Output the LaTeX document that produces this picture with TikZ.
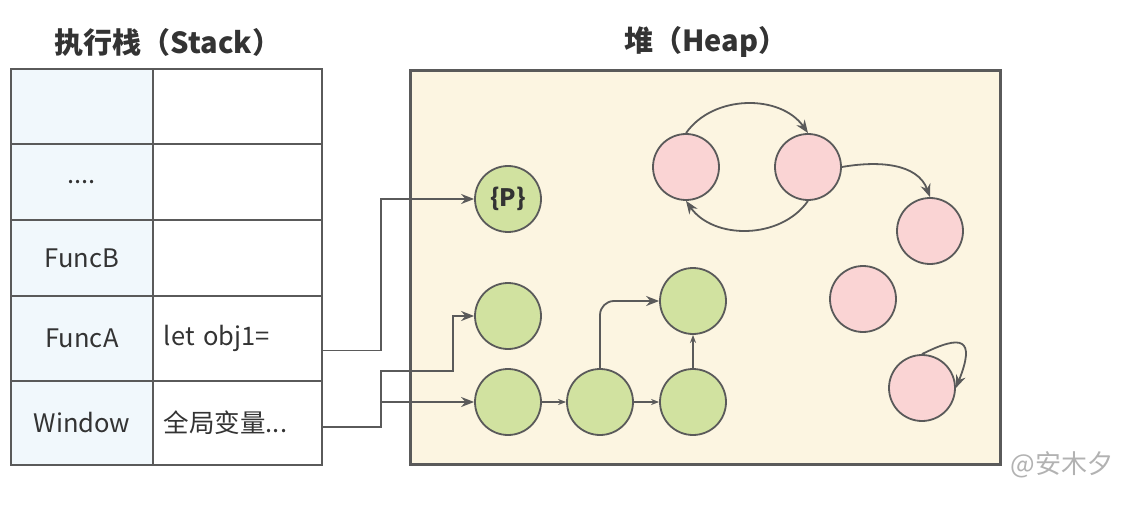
\documentclass[tikz,border=0pt]{standalone}
\usepackage{fontspec}
\setmainfont{Noto Sans CJK SC}
\usetikzlibrary{arrows.meta,positioning}
\definecolor{linegray}{HTML}{5A5A5A}
\definecolor{stackblue}{HTML}{F1F8FC}
\definecolor{heapcream}{HTML}{FCF5E1}
\definecolor{objgreen}{HTML}{D1E2A0}
\definecolor{objpink}{HTML}{FAD4D4}
\definecolor{textdark}{HTML}{333333}
\begin{document}
\begin{tikzpicture}
  [x=1pt, y=-1pt, line width=1.8pt, text=textdark,
   every node/.style={font=\fontsize{25.5}{30}\selectfont},
   lcell/.style={rectangle, draw=linegray, fill=stackblue, minimum width=142pt, anchor=north west, inner sep=0pt},
   rcell/.style={rectangle, draw=linegray, fill=white, text width=147pt, align=left, inner xsep=11pt, inner ysep=0pt, anchor=north west},
   title/.style={font=\fontsize{29}{33}\selectfont\bfseries},
   gobj/.style={circle, draw=linegray, fill=objgreen, minimum size=66pt, inner sep=0pt},
   pobj/.style={circle, draw=linegray, fill=objpink, minimum size=66pt, inner sep=0pt},
   link/.style={draw=linegray, -{Stealth[length=13pt,width=10pt]}},
   slink/.style={draw=linegray, line width=1.5pt, -{Stealth[length=8pt,width=6pt]}}]
  \useasboundingbox (0,0) rectangle (1135,505);

  % titles
  \node[title] (stacktitle) at (168,42) {执行栈（Stack）};
  \node[title] (heaptitle) at (706,42) {堆（Heap）};

  % execution stack
  \node[lcell, minimum height=75pt] (l1) at (10,68) {};
  \node[rcell, minimum height=75pt] (r1) at (152,68) {};
  \node[lcell, minimum height=76pt] (l2) at (10,143) {....};
  \node[rcell, minimum height=76pt] (r2) at (152,143) {};
  \node[lcell, minimum height=76pt] (lB) at (10,219) {FuncB};
  \node[rcell, minimum height=76pt] (rB) at (152,219) {};
  \node[lcell, minimum height=85pt] (lA) at (10,295) {FuncA};
  \node[rcell, minimum height=85pt] (rA) at (152,295) {let obj1=};
  \node[lcell, minimum height=84pt] (lW) at (10,380) {Window};
  \node[rcell, minimum height=84pt] (rW) at (152,380) {全局变量...};

  % heap
  \node[rectangle, draw=linegray, line width=3pt, fill=heapcream, minimum width=590pt, minimum height=394pt, anchor=north west] (heap) at (409,69) {};

  % reachable objects
  \node[gobj, font=\fontsize{24}{28}\selectfont\bfseries] (cP) at (508,199) {\{P\}};
  \node[gobj] (c2) at (508,316) {};
  \node[gobj] (c3) at (508,402) {};
  \node[gobj] (c4) at (600,402) {};
  \node[gobj] (c5) at (693,402) {};
  \node[gobj] (c6) at (693,301) {};

  % unreachable objects
  \node[pobj] (pA) at (686,167) {};
  \node[pobj] (pB) at (808,167) {};
  \node[pobj] (pC) at (930,231) {};
  \node[pobj] (pD) at (863,299) {};
  \node[pobj] (pE) at (922,388) {};

  % references from the stack
  \draw[link] ([yshift=-12pt]rA.east) -- ++(58,0) |- (cP.west);
  \draw[link] ([yshift=-4pt]rW.east) -- ++(58,0) coordinate (wj) |- (c3.west);
  \coordinate (wk) at (453,371);
  \draw[link] (wj |- c3.west) |- (wk) |- (c2.west);

  % references inside the heap
  \draw[slink] (c3) -- (c4);
  \draw[slink] (c4) -- (c5);
  \draw[slink] (c5) -- (c6);
  \draw[link, rounded corners=14pt] (c4.north) |- (c6.west);
  \draw[link] (pA.north) to[out=55, in=125] (pB.north);
  \draw[link] (pB.south) to[out=-125, in=-55] (pA.south);
  \draw[link] (pB.east) to[out=10, in=110] (pC.north);
  \draw[link] (pE.north) .. controls +(40,-20) and +(20,-50) .. (pE.east);

  % watermark
  \node[text=black!30, font=\fontsize{26}{30}\selectfont] (mark) at (1062,465) {@安木夕};
\end{tikzpicture}
\end{document}
